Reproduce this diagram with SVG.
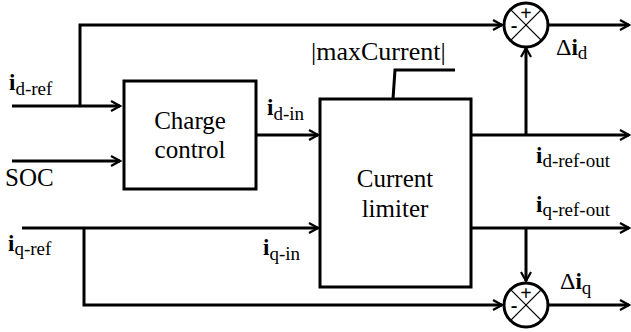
<svg xmlns="http://www.w3.org/2000/svg" width="631" height="332" viewBox="0 0 631 332">
<defs>
<marker id="arr" markerWidth="12" markerHeight="12" refX="10" refY="6" orient="auto" markerUnits="userSpaceOnUse">
<path d="M1,1 L10,6 L1,11" fill="none" stroke="#000" stroke-width="2.2"/>
</marker>
</defs>
<style>
.w{fill:none;stroke:#000;stroke-width:3}
.b{fill:#fff;stroke:#000;stroke-width:3}
.x{stroke:#000;stroke-width:1.3}
</style>
<rect width="631" height="332" fill="#fff"/>
<g id="connectors">
<path class="w" d="M12,106 H120" marker-end="url(#arr)"/>
<path class="w" d="M80,106 V25 H502" marker-end="url(#arr)"/>
<path class="w" d="M12,161 H120" marker-end="url(#arr)"/>
<path class="w" d="M256,135 H318" marker-end="url(#arr)"/>
<path class="w" d="M22,228 H318" marker-end="url(#arr)"/>
<path class="w" d="M84,228 V305 H502" marker-end="url(#arr)"/>
<path class="w" d="M548,25 H629" marker-end="url(#arr)"/>
<path class="w" d="M471,135 H629" marker-end="url(#arr)"/>
<path class="w" d="M526,135 V48" marker-end="url(#arr)"/>
<path class="w" d="M471,228 H629" marker-end="url(#arr)"/>
<path class="w" d="M526,228 V281" marker-end="url(#arr)"/>
<path class="w" d="M548,305 H629" marker-end="url(#arr)"/>
<path class="w" d="M393,99 L395,70 H455"/>
</g>
<g id="charge-control">
<rect class="b" x="124" y="81" width="132" height="108"/>
<text style="font-family:'Liberation Serif';font-size:25px" x="190" y="129" text-anchor="middle">Charge</text>
<text style="font-family:'Liberation Serif';font-size:25px" x="190" y="158" text-anchor="middle">control</text>
</g>
<g id="current-limiter">
<rect class="b" x="320" y="99" width="151" height="188"/>
<text style="font-family:'Liberation Serif';font-size:25px" x="395" y="187" text-anchor="middle">Current</text>
<text style="font-family:'Liberation Serif';font-size:25px" x="395" y="217" text-anchor="middle">limiter</text>
</g>
<g id="sum-d">
<circle class="b" cx="526" cy="25" r="22"/>
<line class="x" x1="510.4" y1="9.4" x2="541.6" y2="40.6"/>
<line class="x" x1="541.6" y1="9.4" x2="510.4" y2="40.6"/>
<text style="font-family:'Liberation Serif';font-size:20px;font-weight:bold" x="526" y="20" text-anchor="middle">+</text>
<text style="font-family:'Liberation Serif';font-size:20px;font-weight:bold" x="514" y="32" text-anchor="middle">-</text>
</g>
<g id="sum-q">
<circle class="b" cx="526" cy="305" r="22"/>
<line class="x" x1="510.4" y1="289.4" x2="541.6" y2="320.6"/>
<line class="x" x1="541.6" y1="289.4" x2="510.4" y2="320.6"/>
<text style="font-family:'Liberation Serif';font-size:20px;font-weight:bold" x="526" y="300" text-anchor="middle">+</text>
<text style="font-family:'Liberation Serif';font-size:20px;font-weight:bold" x="514" y="312" text-anchor="middle">-</text>
</g>
<g id="labels">
<text style="font-family:'Liberation Serif';font-size:19px" x="9" y="90"><tspan style="font-size:23px;font-weight:bold">i</tspan><tspan dy="5">d-ref</tspan></text>
<text style="font-family:'Liberation Serif';font-size:25px" x="5" y="186">SOC</text>
<text style="font-family:'Liberation Serif';font-size:19px" x="8" y="251"><tspan style="font-size:23px;font-weight:bold">i</tspan><tspan dy="4">q-ref</tspan></text>
<text style="font-family:'Liberation Serif';font-size:19px" x="267" y="115"><tspan style="font-size:23px;font-weight:bold">i</tspan><tspan dy="5">d-in</tspan></text>
<text style="font-family:'Liberation Serif';font-size:19px" x="263" y="255"><tspan style="font-size:23px;font-weight:bold">i</tspan><tspan dy="5">q-in</tspan></text>
<text style="font-family:'Liberation Serif';font-size:26px" x="311" y="60">|maxCurrent|</text>
<text style="font-family:'Liberation Serif';font-size:19px" x="556" y="55"><tspan style="font-size:24px">Δ</tspan><tspan style="font-size:23px;font-weight:bold">i</tspan><tspan dy="4">d</tspan></text>
<text style="font-family:'Liberation Serif';font-size:19px" x="560" y="289"><tspan style="font-size:24px">Δ</tspan><tspan style="font-size:23px;font-weight:bold">i</tspan><tspan dy="5">q</tspan></text>
<text style="font-family:'Liberation Serif';font-size:19px" x="536" y="163"><tspan style="font-size:23px;font-weight:bold">i</tspan><tspan dy="4">d-ref-out</tspan></text>
<text style="font-family:'Liberation Serif';font-size:19px" x="536" y="212"><tspan style="font-size:23px;font-weight:bold">i</tspan><tspan dy="4">q-ref-out</tspan></text>
</g>
</svg>
